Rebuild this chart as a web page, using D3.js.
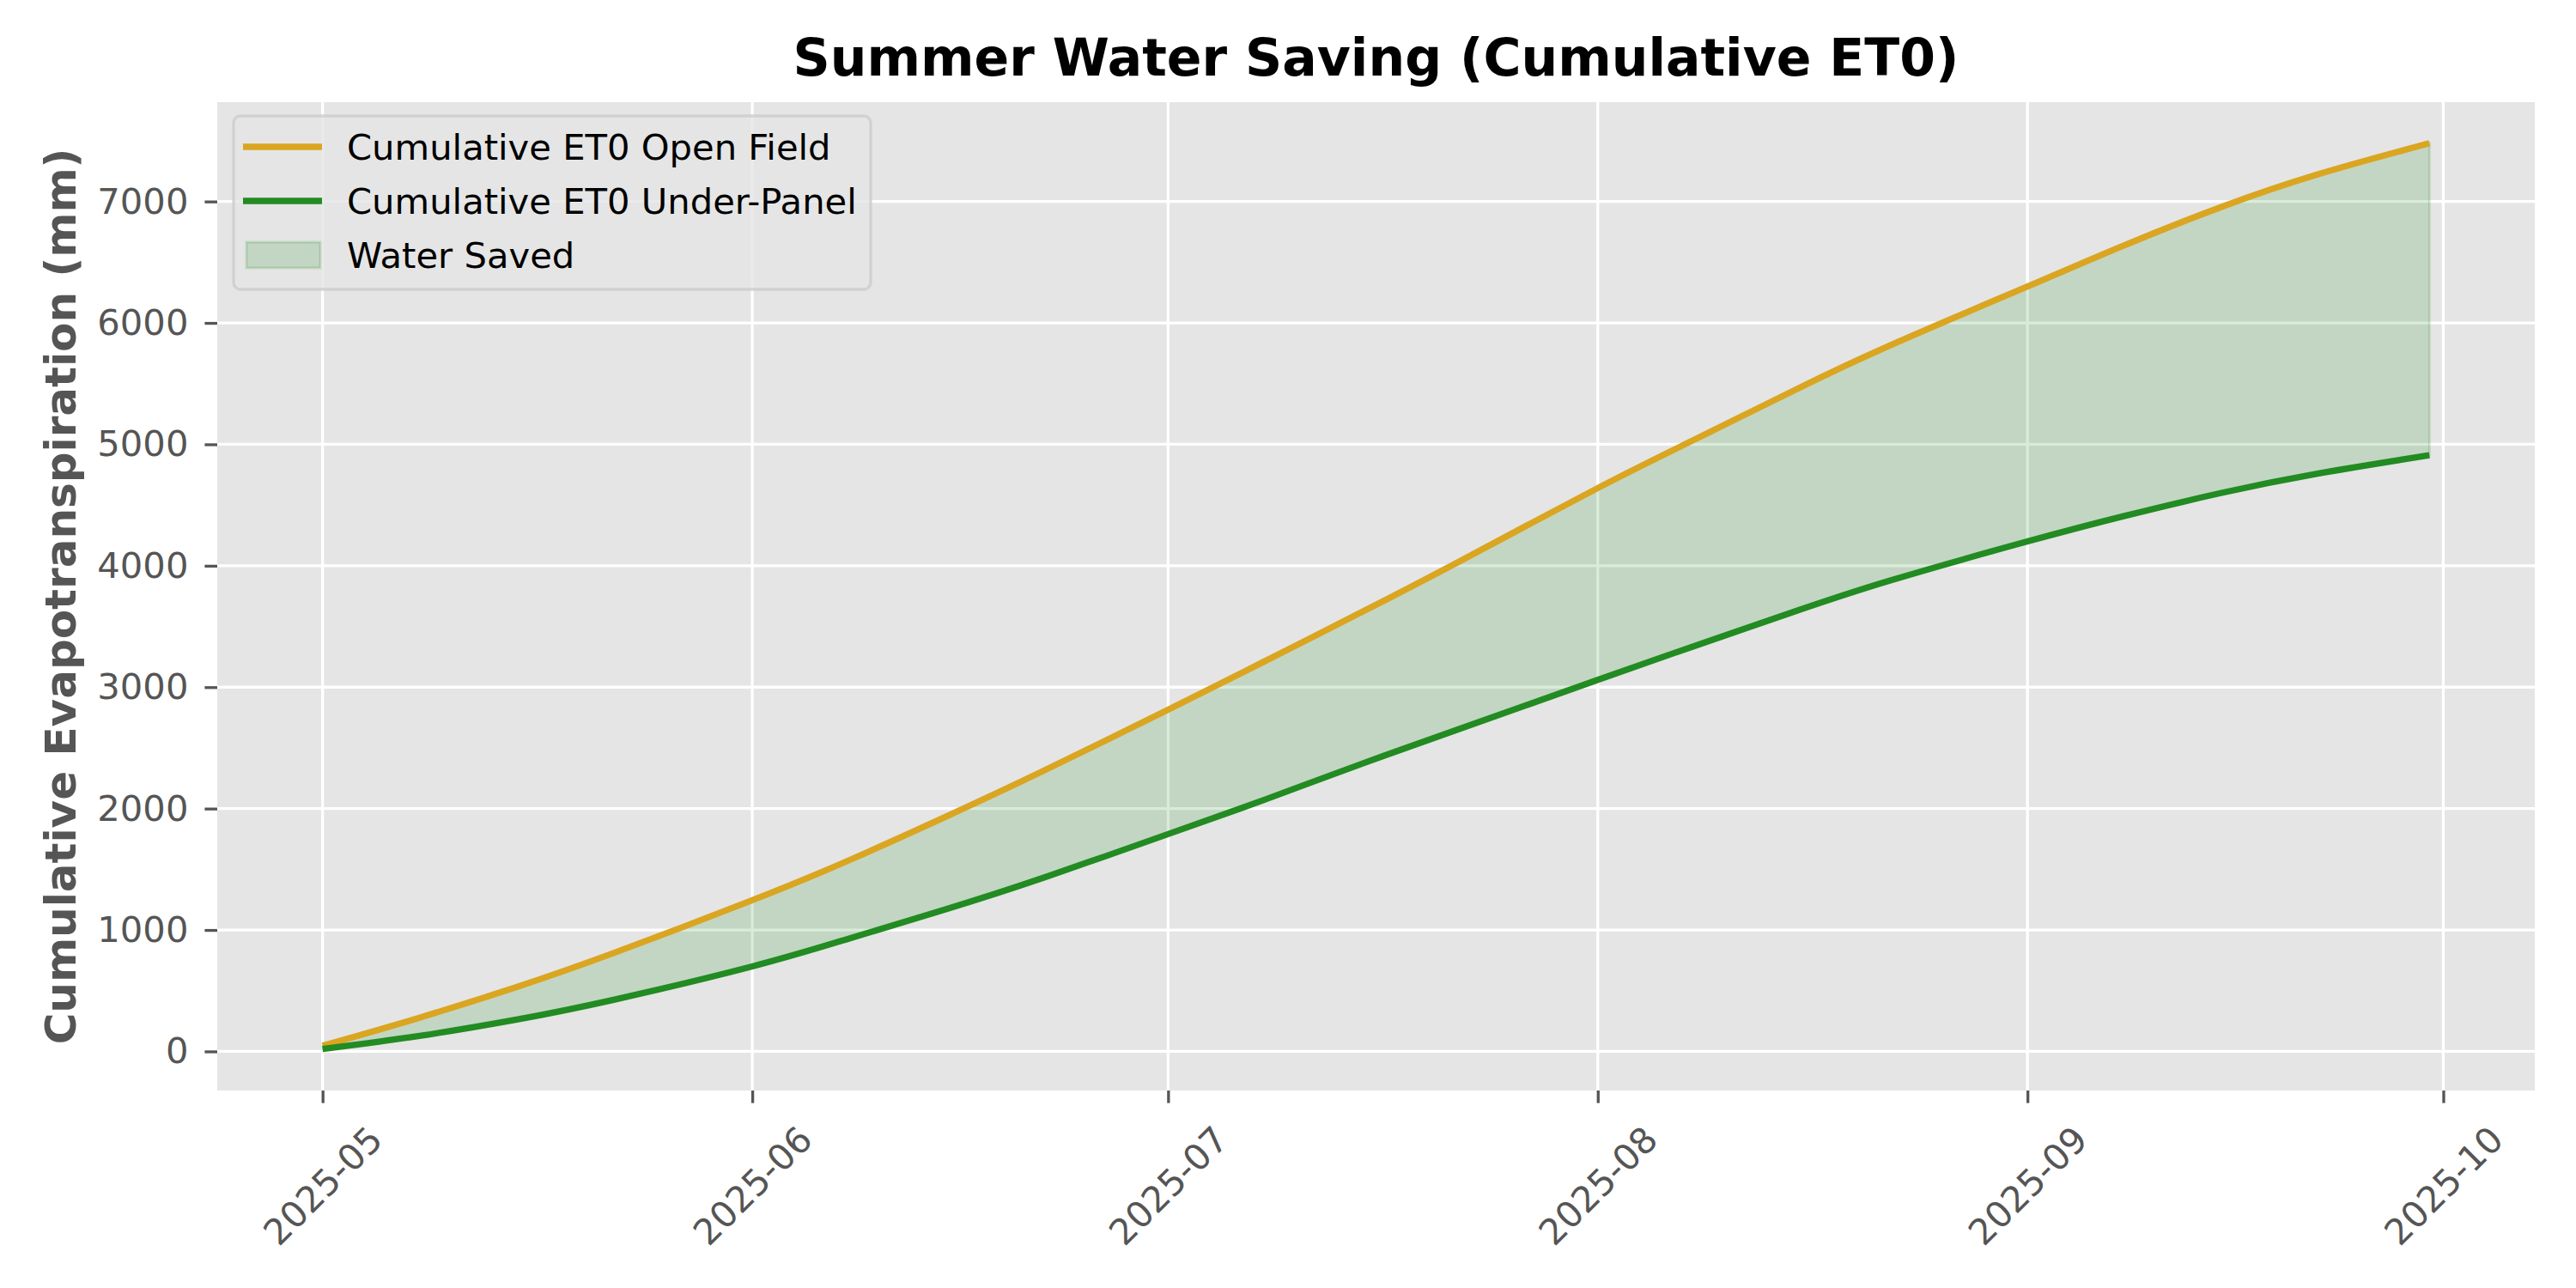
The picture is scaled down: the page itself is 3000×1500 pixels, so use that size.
<!DOCTYPE html>
<html>
<head>
<meta charset="utf-8">
<script src="https://cdn.jsdelivr.net/npm/d3@7"></script>
<style>
  body { margin: 0; background: #ffffff; }
  svg { display: block; font-family: "DejaVu Sans", sans-serif; }
</style>
</head>
<body>
<svg width="3000" height="1500"></svg>
<script>
// data
var dates = ["2025-05-01", "2025-05-08", "2025-05-15", "2025-05-22", "2025-06-01", "2025-06-08",
             "2025-06-15", "2025-06-22", "2025-07-01", "2025-07-08", "2025-07-15", "2025-07-22",
             "2025-08-01", "2025-08-08", "2025-08-15", "2025-08-22", "2025-09-01", "2025-09-08",
             "2025-09-15", "2025-09-22", "2025-09-30"];
var openField = [47, 278, 530, 810, 1245, 1575, 1935, 2310, 2815, 3215, 3620, 4035,
                 4640, 5040, 5435, 5810, 6300, 6640, 6955, 7225, 7480];
var underPanel = [20, 128, 262, 425, 700, 930, 1172, 1430, 1790, 2075, 2370, 2655,
                  3060, 3340, 3615, 3875, 4200, 4410, 4600, 4760, 4910];
var yTicks = [0, 1000, 2000, 3000, 4000, 5000, 6000, 7000];
var xTickDates = ["2025-05-01", "2025-06-01", "2025-07-01", "2025-08-01", "2025-09-01", "2025-10-01"];
var yLimits = [-322, 7818];
var legendLabels = ["Cumulative ET0 Open Field", "Cumulative ET0 Under-Panel", "Water Saved"];

var svg = d3.select("svg");

var plotLeft = 253, plotRight = 2952, plotTop = 119, plotBottom = 1270;

var parse = d3.utcParse("%Y-%m-%d");
var rows = dates.map(function (d, i) {
    return { date: parse(d), open: openField[i], under: underPanel[i] };
});

var first = rows[0].date, last = rows[rows.length - 1].date;
var pad = (last - first) * 0.05;
var x = d3.scaleUtc()
    .domain([new Date(+first - pad), new Date(+last + pad)])
    .range([plotLeft, plotRight]);
var y = d3.scaleLinear().domain(yLimits).range([plotBottom, plotTop]);

// panel background
svg.append("rect")
    .attr("x", plotLeft).attr("y", plotTop)
    .attr("width", plotRight - plotLeft).attr("height", plotBottom - plotTop)
    .attr("fill", "#e5e5e5");

// grid
var xt = xTickDates.map(parse);
svg.append("g").selectAll("line").data(xt).enter().append("line")
    .attr("x1", function (d) { return x(d); }).attr("x2", function (d) { return x(d); })
    .attr("y1", plotTop).attr("y2", plotBottom)
    .attr("stroke", "#ffffff").attr("stroke-width", 3.3);
svg.append("g").selectAll("line").data(yTicks).enter().append("line")
    .attr("x1", plotLeft).attr("x2", plotRight)
    .attr("y1", function (d) { return y(d); }).attr("y2", function (d) { return y(d); })
    .attr("stroke", "#ffffff").attr("stroke-width", 3.3);

// y axis
var yAxis = svg.append("g")
    .attr("transform", "translate(" + plotLeft + ",0)")
    .call(d3.axisLeft(y).tickValues(yTicks).tickSize(14.6).tickPadding(19).tickFormat(d3.format("d")));
yAxis.select(".domain").remove();
yAxis.selectAll(".tick line").attr("stroke", "#555555").attr("stroke-width", 3.3);
yAxis.selectAll(".tick text")
    .attr("fill", "#555555")
    .style("font-size", "41.7px")
    .style("font-family", "DejaVu Sans");

// x axis
var xAxis = svg.append("g")
    .attr("transform", "translate(0," + plotBottom + ")")
    .call(d3.axisBottom(x).tickValues(xt).tickSize(14.6).tickFormat(d3.utcFormat("%Y-%m")));
xAxis.select(".domain").remove();
xAxis.selectAll(".tick line").attr("stroke", "#555555").attr("stroke-width", 3.3);
xAxis.selectAll(".tick text")
    .attr("fill", "#555555")
    .attr("y", 0).attr("dy", null)
    .attr("text-anchor", "middle")
    .attr("dominant-baseline", "central")
    .attr("transform", "translate(0,111) rotate(-45)")
    .style("font-size", "41.7px")
    .style("font-family", "DejaVu Sans");

// water saved area
var area = d3.area()
    .x(function (d) { return x(d.date); })
    .y0(function (d) { return y(d.under); })
    .y1(function (d) { return y(d.open); })
    .curve(d3.curveNatural);
svg.append("path")
    .datum(rows)
    .attr("d", area)
    .attr("fill", "green").attr("fill-opacity", 0.15)
    .attr("stroke", "green").attr("stroke-opacity", 0.15).attr("stroke-width", 3);

// lines
var lineOpen = d3.line()
    .x(function (d) { return x(d.date); })
    .y(function (d) { return y(d.open); })
    .curve(d3.curveNatural);
var lineUnder = d3.line()
    .x(function (d) { return x(d.date); })
    .y(function (d) { return y(d.under); })
    .curve(d3.curveNatural);
svg.append("path").datum(rows).attr("d", lineOpen)
    .attr("fill", "none").attr("stroke", "#daa520").attr("stroke-width", 7.3);
svg.append("path").datum(rows).attr("d", lineUnder)
    .attr("fill", "none").attr("stroke", "#228b22").attr("stroke-width", 7.3);

// legend
var lg = svg.append("g");
lg.append("rect")
    .attr("x", 272).attr("y", 135).attr("width", 742).attr("height", 202)
    .attr("rx", 8)
    .attr("fill", "#e5e5e5").attr("fill-opacity", 0.8)
    .attr("stroke", "#cccccc").attr("stroke-opacity", 0.8).attr("stroke-width", 3.3);
var rowY = [171, 234, 297];
lg.append("line").attr("x1", 283).attr("x2", 375).attr("y1", rowY[0]).attr("y2", rowY[0])
    .attr("stroke", "#daa520").attr("stroke-width", 7.3);
lg.append("line").attr("x1", 283).attr("x2", 375).attr("y1", rowY[1]).attr("y2", rowY[1])
    .attr("stroke", "#228b22").attr("stroke-width", 7.3);
lg.append("rect").attr("x", 287).attr("y", rowY[2] - 15).attr("width", 86).attr("height", 30)
    .attr("fill", "green").attr("fill-opacity", 0.15)
    .attr("stroke", "green").attr("stroke-opacity", 0.15).attr("stroke-width", 3);
lg.selectAll("text").data(legendLabels).enter().append("text")
    .attr("x", 404)
    .attr("y", function (d, i) { return rowY[i]; })
    .attr("dominant-baseline", "central")
    .style("font-size", "41.7px")
    .attr("fill", "#000000")
    .text(function (d) { return d; });

// title
svg.append("text")
    .attr("x", (plotLeft + plotRight) / 2).attr("y", 88)
    .attr("text-anchor", "middle")
    .style("font-size", "60px").style("font-weight", "bold")
    .attr("fill", "#000000")
    .text("Summer Water Saving (Cumulative ET0)");

// y label
svg.append("text")
    .attr("transform", "translate(88," + ((plotTop + plotBottom) / 2) + ") rotate(-90)")
    .attr("text-anchor", "middle")
    .style("font-size", "50px").style("font-weight", "bold")
    .attr("fill", "#555555")
    .text("Cumulative Evapotranspiration (mm)");
</script>
</body>
</html>
